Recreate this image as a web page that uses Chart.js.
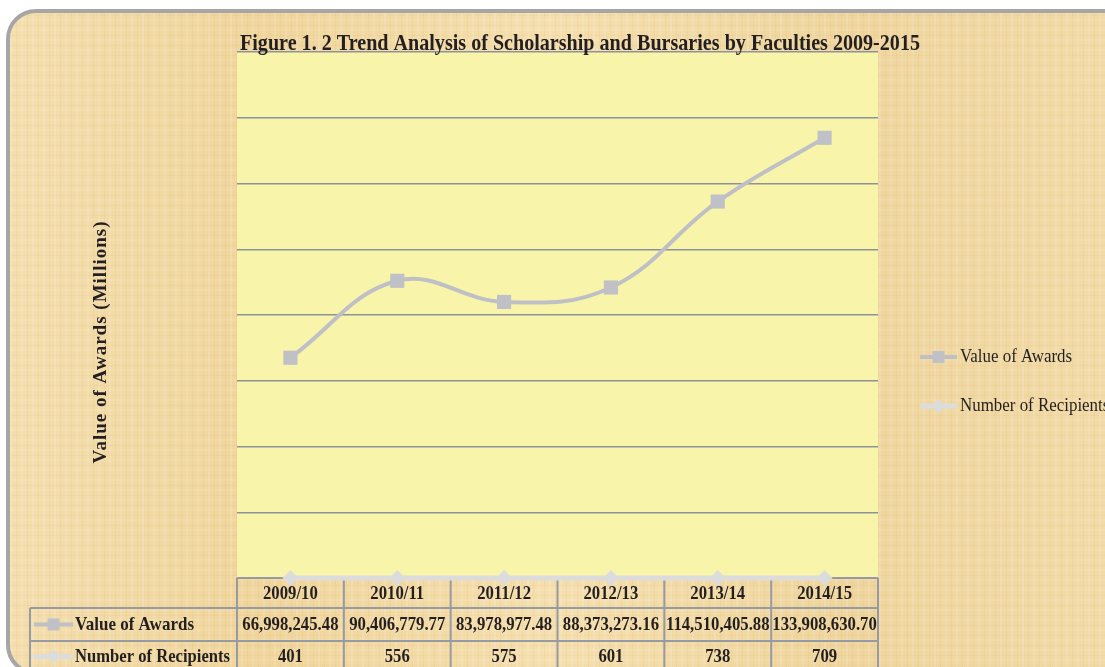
<!DOCTYPE html>
<html>
<head>
<meta charset="utf-8">
<script src="https://cdn.jsdelivr.net/npm/chart.js@4.4.1/dist/chart.umd.min.js"></script>
<style>
html,body{margin:0;padding:0;width:1105px;height:667px;overflow:hidden;background:#ffffff;}
#frame{position:absolute;left:6px;top:9px;width:1200px;height:658px;border:4px solid #a6a6a6;border-radius:30px;
background:
 repeating-linear-gradient(90deg, rgba(255,255,255,0.12) 0 2px, rgba(0,0,0,0) 2px 6px, rgba(170,120,50,0.06) 6px 7px, rgba(0,0,0,0) 7px 11px),
 repeating-linear-gradient(0deg, rgba(255,255,255,0.09) 0 2px, rgba(0,0,0,0) 2px 5px, rgba(170,120,50,0.05) 5px 6px, rgba(0,0,0,0) 6px 10px),
 linear-gradient(90deg, #f4dead 0%, #f0d59c 20%, #f5dfae 45%, #efd59d 70%, #f4dcaa 100%);
}
#c{position:absolute;left:0;top:0;}
</style>
</head>
<body>
<div id="frame"></div>
<canvas id="c" width="1105" height="667"></canvas>
<script>
// ---- data ----
const categories = ['2009/10', '2010/11', '2011/12', '2012/13', '2013/14', '2014/15'];
const awardsValues = [66998245.48, 90406779.77, 83978977.48, 88373273.16, 114510405.88, 133908630.70];
const recipientsValues = [401, 556, 575, 601, 738, 709];
const seriesNames = ['Value of Awards', 'Number of Recipients'];
const chartTitle = 'Figure 1. 2 Trend Analysis of Scholarship and Bursaries by Faculties 2009-2015';
const yAxisTitle = 'Value of Awards (Millions)';
const yMin = 0, yMax = 160000000, yStep = 20000000;

const SERIF = '"Liberation Serif", "Times New Roman", serif';
const TEXT = '#231f20';
const COND = 0.88;

function fmtAward(v){ return v.toLocaleString('en-US',{minimumFractionDigits:2, maximumFractionDigits:2}); }
function fmtCount(v){ return String(v); }

function drawText(ctx, text, x, y, font, align, sx, fitWidth){
  ctx.save();
  ctx.font = font;
  ctx.fillStyle = TEXT;
  ctx.textBaseline = 'middle';
  const w = ctx.measureText(text).width;
  let s = sx;
  if (fitWidth) s = fitWidth / w;
  ctx.translate(x, y);
  ctx.scale(s, 1);
  ctx.textAlign = align;
  ctx.fillText(text, 0, 0);
  ctx.restore();
}

function drawKey(ctx, ds, x0, x1, y){
  ctx.save();
  ctx.strokeStyle = ds.borderColor;
  ctx.lineWidth = ds.borderWidth;
  ctx.beginPath(); ctx.moveTo(x0, y); ctx.lineTo(x1, y); ctx.stroke();
  ctx.fillStyle = ds.pointBackgroundColor;
  ctx.beginPath();
  const cx = (x0 + x1) / 2, r = 7;
  if (ds.pointStyle === 'rect') { ctx.rect(cx - 6, y - 6, 12, 12); }
  else { ctx.moveTo(cx, y - r); ctx.lineTo(cx + r, y); ctx.lineTo(cx, y + r); ctx.lineTo(cx - r, y); ctx.closePath(); }
  ctx.fill();
  ctx.restore();
}

const deco = {
  id: 'deco',
  beforeDraw(chart){
    const {ctx, chartArea: a} = chart;
    ctx.save();
    ctx.fillStyle = '#f8f4aa';
    ctx.fillRect(a.left, a.top, a.right - a.left, a.bottom - a.top);
    ctx.restore();
  },
  beforeDatasetsDraw(chart){
    const {ctx, chartArea: a, scales: {x}} = chart;
    const n = categories.length;
    const colW = (a.right - a.left) / n;
    const rows = [a.bottom, a.bottom + 30, a.bottom + 63, a.bottom + 96];
    const legendLeft = 30;
    ctx.save();
    ctx.strokeStyle = '#959aa3';
    ctx.lineWidth = 2;
    ctx.beginPath();
    ctx.moveTo(a.left, rows[0]); ctx.lineTo(a.right, rows[0]);
    for (let r = 1; r < rows.length; r++){ ctx.moveTo(legendLeft, rows[r]); ctx.lineTo(a.right, rows[r]); }
    for (let i = 0; i <= n; i++){
      const bx = x.getPixelForValue(0) - colW / 2 + i * colW;
      ctx.moveTo(bx, rows[0]); ctx.lineTo(bx, rows[3]);
    }
    ctx.moveTo(legendLeft, rows[1]); ctx.lineTo(legendLeft, rows[3]);
    ctx.stroke();
    ctx.restore();

    const bold = 'bold 19px ' + SERIF;
    categories.forEach((c, i) => {
      const cx = x.getPixelForValue(i);
      drawText(ctx, c, cx, (rows[0] + rows[1]) / 2 + 1, bold, 'center', COND);
      drawText(ctx, fmtAward(awardsValues[i]), cx, (rows[1] + rows[2]) / 2 + 1, bold, 'center', COND);
      drawText(ctx, fmtCount(recipientsValues[i]), cx, (rows[2] + rows[3]) / 2, bold, 'center', COND);
    });
    const dsets = chart.data.datasets;
    drawKey(ctx, dsets[0], 34, 73, (rows[1] + rows[2]) / 2);
    drawText(ctx, dsets[0].label, 75, (rows[1] + rows[2]) / 2 + 1, bold, 'left', 1, 119);
    drawKey(ctx, dsets[1], 34, 73, (rows[2] + rows[3]) / 2 - 1);
    drawText(ctx, dsets[1].label, 75, (rows[2] + rows[3]) / 2, bold, 'left', 1, 155);
  },
  afterDraw(chart){
    const {ctx} = chart;
    drawText(ctx, chartTitle, 240, 44, 'bold 24px ' + SERIF, 'left', 1, 680);
    ctx.save();
    ctx.translate(101, 342);
    ctx.rotate(-Math.PI / 2);
    ctx.font = 'bold 19px ' + SERIF;
    ctx.letterSpacing = '1px';
    ctx.fillStyle = TEXT;
    ctx.textBaseline = 'middle';
    ctx.textAlign = 'center';
    const w = ctx.measureText(yAxisTitle).width;
    ctx.scale(243 / w, 1);
    ctx.fillText(yAxisTitle, 0, 0);
    ctx.restore();
    const dsets = chart.data.datasets;
    const ly = [357, 406];
    dsets.forEach((ds, i) => {
      drawKey(ctx, ds, 920, 957, ly[i]);
      drawText(ctx, ds.label, 960, ly[i], '19px ' + SERIF, 'left', 0.89);
    });
  }
};

new Chart(document.getElementById('c'), {
  type: 'line',
  data: {
    labels: categories,
    datasets: [
      {
        label: seriesNames[0],
        data: awardsValues,
        borderColor: '#bfc0c5',
        borderWidth: 4,
        tension: 0.4,
        pointStyle: 'rect',
        pointRadius: 10,
        pointHoverRadius: 10,
        pointBackgroundColor: '#c0c1c6',
        pointBorderWidth: 0,
        clip: false
      },
      {
        label: seriesNames[1],
        data: recipientsValues,
        borderColor: '#dcdcdc',
        borderWidth: 5,
        tension: 0,
        pointStyle: 'rectRot',
        pointRadius: 8,
        pointHoverRadius: 8,
        pointBackgroundColor: '#dcdcdc',
        pointBorderWidth: 0,
        clip: false
      }
    ]
  },
  options: {
    responsive: false,
    animation: false,
    events: [],
    layout: { padding: { left: 237, right: 227, top: 52, bottom: 89 } },
    plugins: { legend: { display: false }, title: { display: false }, tooltip: { enabled: false } },
    scales: {
      x: { display: false, offset: true },
      y: {
        min: yMin, max: yMax,
        ticks: { stepSize: yStep, display: false },
        border: { display: false },
        grid: { color: '#8d919a', lineWidth: 1.5, drawTicks: false },
        afterFit(s){ s.width = 0; }
      }
    }
  },
  plugins: [deco]
});
</script>
</body>
</html>
